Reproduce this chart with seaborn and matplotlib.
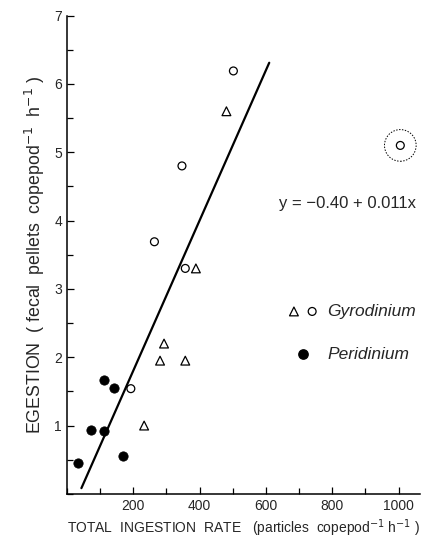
import numpy as np
import pandas as pd
import seaborn as sns
import matplotlib.pyplot as plt
from matplotlib.legend_handler import HandlerTuple
from matplotlib.ticker import MultipleLocator, FixedLocator

# data
peri_x = [33, 72, 112, 113, 141, 169]
peri_y = [0.45, 0.93, 0.92, 1.67, 1.55, 0.55]

gyro_tri_x = [233, 281, 293, 357, 389, 481]
gyro_tri_y = [1.00, 1.95, 2.20, 1.95, 3.30, 5.60]

gyro_circ_x = [193, 264, 357, 347, 502]
gyro_circ_y = [1.54, 3.69, 3.30, 4.80, 6.19]

outlier_x = [1005]
outlier_y = [5.10]

# regression line y = -0.40 + 0.011x
intercept = -0.40
slope = 0.011
line_x = np.array([44, 610])

sns.set_style("ticks")
plt.rcParams['font.family'] = ['Liberation Sans', 'DejaVu Sans']

fig = plt.figure(figsize=(4.31, 5.38), dpi=100)
ax = fig.add_axes([0.155, 0.082, 0.82, 0.889])

peri = pd.DataFrame({'x': peri_x, 'y': peri_y})
tri = pd.DataFrame({'x': gyro_tri_x, 'y': gyro_tri_y})
circ = pd.DataFrame({'x': gyro_circ_x + outlier_x, 'y': gyro_circ_y + outlier_y})

sns.scatterplot(data=peri, x='x', y='y', marker='o', s=45, color='black',
                edgecolor='black', ax=ax, zorder=3)
sns.scatterplot(data=tri, x='x', y='y', marker='^', s=40, facecolor='none',
                edgecolor='black', linewidth=0.9, ax=ax, zorder=3)
sns.scatterplot(data=circ, x='x', y='y', marker='o', s=32, facecolor='none',
                edgecolor='black', linewidth=0.9, ax=ax, zorder=3)
# dotted ring around the outlier
ax.scatter(outlier_x, outlier_y, marker='o', s=520, facecolors='none',
           edgecolors='black', linewidths=0.7, linestyle=(0, (1.5, 1.5)))

sns.lineplot(x=line_x, y=intercept + slope * line_x, color='black', lw=1.6, ax=ax)

ax.set_xlim(0, 1065)
ax.set_ylim(0, 7)
ax.xaxis.set_major_locator(FixedLocator([200, 400, 600, 800, 1000]))
ax.xaxis.set_minor_locator(MultipleLocator(100))
ax.yaxis.set_major_locator(FixedLocator([1, 2, 3, 4, 5, 6, 7]))
ax.yaxis.set_minor_locator(MultipleLocator(0.5))
ax.tick_params(which='both', direction='in', labelsize=10, width=0.9, color='black')
ax.tick_params(which='major', length=5)
ax.tick_params(which='minor', length=4)
sns.despine(ax=ax)
for s in ['left', 'bottom']:
    ax.spines[s].set_linewidth(1.1)
    ax.spines[s].set_color('black')

ax.set_xlabel('TOTAL  INGESTION  RATE   (particles  copepod$^{-1}$ h$^{-1}$ )',
              fontsize=10, labelpad=3)
ax.set_ylabel('EGESTION  ( fecal  pellets  copepod$^{-1}$  h$^{-1}$ )',
              fontsize=12.8, labelpad=5)

ax.text(0.6, 0.598, 'y = \u22120.40 + 0.011x', transform=ax.transAxes, fontsize=12)

h_tri = ax.scatter([], [], marker='^', s=40, facecolors='none', edgecolors='black', linewidths=0.9)
h_circ = ax.scatter([], [], marker='o', s=32, facecolors='none', edgecolors='black', linewidths=0.9)
h_peri = ax.scatter([], [], marker='o', s=45, color='black')
leg = ax.legend([(h_tri, h_circ), h_peri], ['Gyrodinium', 'Peridinium'],
                handler_map={tuple: HandlerTuple(ndivide=None, pad=0.3)},
                loc='upper left', bbox_to_anchor=(0.58, 0.43), frameon=False,
                labelspacing=1.6, handletextpad=0.5, handlelength=1.8,
                prop={'size': 12.5, 'style': 'italic'})

fig.savefig('out.png', dpi=100)
